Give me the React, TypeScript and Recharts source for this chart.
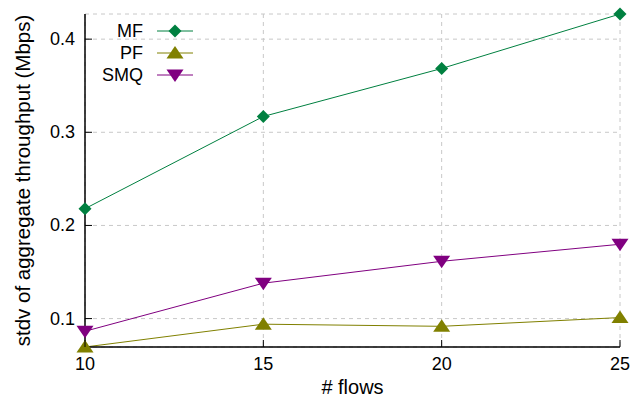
import { CartesianGrid, Legend, Line, LineChart, XAxis, YAxis } from "recharts"

const flows = [10, 15, 20, 25]
const mf = [0.218, 0.317, 0.3685, 0.427]
const pf = [0.0695, 0.094, 0.0917, 0.1011]
const smq = [0.0864, 0.138, 0.1615, 0.1798]
const yTicks = [0.1, 0.2, 0.3, 0.4]

const data = flows.map((f, i) => ({ flows: f, MF: mf[i], PF: pf[i], SMQ: smq[i] }))

const FONT = "'Liberation Sans', Arial, Helvetica, sans-serif"
const COLORS: Record<string, string> = { MF: "#008040", PF: "#808000", SMQ: "#800080" }

function marker(name: string, cx: number, cy: number, color: string, key?: string) {
  if (name === "MF") {
    return <path key={key} d={`M${cx},${cy - 6.5}L${cx + 6.5},${cy}L${cx},${cy + 6.5}L${cx - 6.5},${cy}Z`} fill={color} />
  }
  if (name === "PF") {
    return <path key={key} d={`M${cx},${cy - 7}L${cx + 8.5},${cy + 5.5}L${cx - 8.5},${cy + 5.5}Z`} fill={color} />
  }
  return <path key={key} d={`M${cx},${cy + 7}L${cx + 8.5},${cy - 5.5}L${cx - 8.5},${cy - 5.5}Z`} fill={color} />
}

const dotFor = (name: string) => (props: any) => {
  const { cx, cy, index } = props
  return marker(name, cx, cy, COLORS[name], `${name}-${index}`)
}

function YTick(props: any) {
  const { x, y, payload } = props
  return (
    <g>
      <text x={x} y={y} dy={6} textAnchor="end" fontSize={18} fontFamily={FONT} fill="#000">
        {payload.value.toFixed(1)}
      </text>
      <line x1={x + 10} x2={x + 17} y1={y} y2={y} stroke="#000" strokeWidth={1} />
    </g>
  )
}

function XTick(props: any) {
  const { x, y, payload } = props
  return (
    <g>
      <text x={x} y={y} dy={15} textAnchor="middle" fontSize={18} fontFamily={FONT} fill="#000">
        {payload.value}
      </text>
      <line x1={x} x2={x} y1={y - 8} y2={y - 15} stroke="#000" strokeWidth={1} />
    </g>
  )
}

// mirrored inward ticks on the top and right borders
function TopTick(props: any) {
  const { x, y } = props
  return <line x1={x} x2={x} y1={y} y2={y + 7} stroke="#000" strokeWidth={1} />
}

function RightTick(props: any) {
  const { x, y } = props
  return <line x1={x - 7} x2={x} y1={y} y2={y} stroke="#000" strokeWidth={1} />
}

function LegendBox(props: any) {
  const items = (props.payload || []).map((p: any) => p.value)
  return (
    <svg width={210} height={90} style={{ display: "block" }}>
      {items.map((name: string, i: number) => {
        const y = 31 + i * 22
        return (
          <g key={name}>
            <text x={143} y={y} dy={6} textAnchor="end" fontSize={18} fontFamily={FONT} fill="#000">
              {name}
            </text>
            <line x1={157} x2={193} y1={y} y2={y} stroke={COLORS[name]} strokeWidth={1} />
            {marker(name, 175, y, COLORS[name])}
          </g>
        )
      })}
    </svg>
  )
}

export default function App() {
  return (
    <div style={{ position: "absolute", left: 0, top: 0, background: "#fff" }}>
      <LineChart width={641} height={400} data={data} margin={{ top: 14, right: 21, bottom: 0, left: 0 }}>
        <CartesianGrid stroke="#c8c8c8" strokeDasharray="4 4" />
        <XAxis
          dataKey="flows"
          type="number"
          domain={[10, 25]}
          ticks={flows}
          height={53}
          tickSize={0}
          tickMargin={8}
          tick={<XTick />}
          stroke="#000"
          strokeWidth={1.5}
          label={{ value: "# flows", position: "insideBottom", offset: 6, fontSize: 20, fontFamily: FONT, fill: "#000" }}
        />
        <XAxis
          xAxisId="top"
          dataKey="flows"
          type="number"
          domain={[10, 25]}
          ticks={flows}
          orientation="top"
          height={0}
          tickSize={0}
          tickMargin={0}
          tick={<TopTick />}
          stroke="#000"
          strokeWidth={1.5}
        />
        <YAxis
          domain={["dataMin", "dataMax"]}
          ticks={yTicks}
          width={85}
          tickSize={0}
          tickMargin={10}
          tick={<YTick />}
          stroke="#000"
          strokeWidth={1.5}
          label={{
            value: "stdv of aggregate throughput (Mbps)",
            angle: -90,
            position: "insideLeft",
            offset: 23,
            fontSize: 20.5,
            fontFamily: FONT,
            fill: "#000",
            style: { textAnchor: "middle" },
          }}
        />
        <YAxis
          yAxisId="right"
          orientation="right"
          domain={["dataMin", "dataMax"]}
          ticks={yTicks}
          width={0}
          tickSize={0}
          tickMargin={0}
          tick={<RightTick />}
          stroke="#000"
          strokeWidth={1.5}
        />
        <Legend
          layout="horizontal"
          verticalAlign="middle"
          align="center"
          content={<LegendBox />}
          wrapperStyle={{ position: "absolute", left: 0, top: 0, width: 210, height: 90 }}
        />
        <Line dataKey="MF" name="MF" stroke={COLORS.MF} strokeWidth={1} dot={dotFor("MF")} isAnimationActive={false} />
        <Line dataKey="PF" name="PF" stroke={COLORS.PF} strokeWidth={1} dot={dotFor("PF")} isAnimationActive={false} />
        <Line dataKey="SMQ" name="SMQ" stroke={COLORS.SMQ} strokeWidth={1} dot={dotFor("SMQ")} isAnimationActive={false} />
      </LineChart>
    </div>
  )
}
